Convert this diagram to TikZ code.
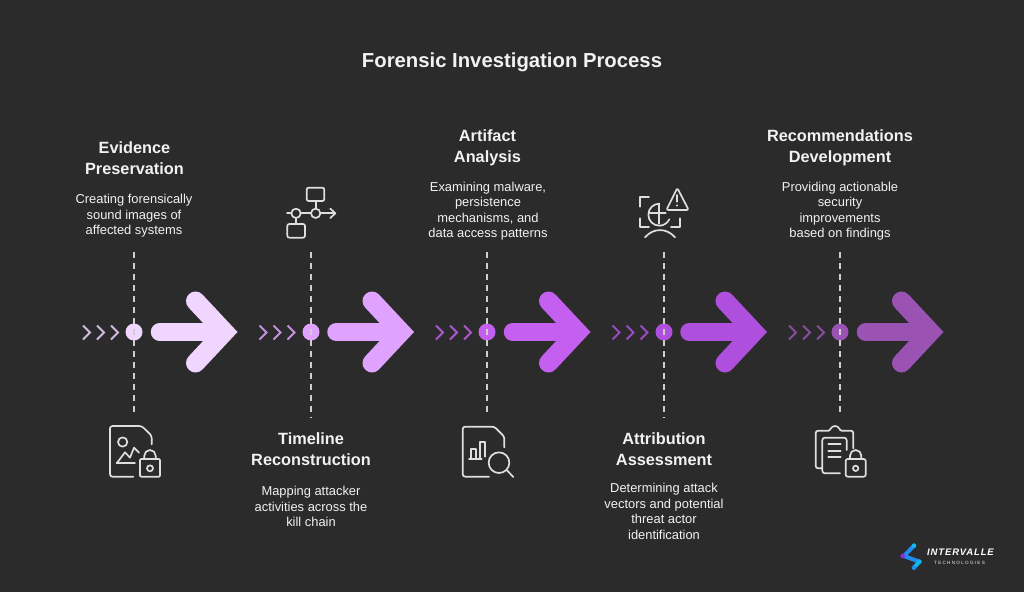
\documentclass[tikz,border=0pt]{standalone}
\usepackage{fontspec}
\setmainfont{Liberation Sans}
\newfontfamily\logofont[LetterSpace=9]{Liberation Sans}
\newfontfamily\logosub[LetterSpace=28]{Liberation Sans}
\definecolor{bg}{HTML}{2B2B2B}
\definecolor{cA}{HTML}{F0D5FF}
\definecolor{cB}{HTML}{DFA3FF}
\definecolor{cC}{HTML}{C55FEF}
\definecolor{cD}{HTML}{AE4FDD}
\definecolor{cE}{HTML}{9A52B3}
\definecolor{ink}{HTML}{F2F2F2}
\definecolor{iconc}{HTML}{DEDEDE}
\definecolor{dashc}{HTML}{CFCFCF}
\definecolor{logoblue}{HTML}{1E8CF0}
\definecolor{logocyan}{HTML}{12B5EC}
\definecolor{logoviolet}{HTML}{8A2BE2}
\tikzset{
  headtxt/.style={text=ink,align=center,font=\fontsize{16.3}{21}\selectfont\bfseries,inner sep=0pt},
  bodytxt/.style={text=ink,align=center,font=\fontsize{12.9}{15.5}\selectfont,inner sep=0pt},
  dotnode/.style={circle,minimum size=17pt,inner sep=0pt},
  dashline/.style={dashc,line width=1.6pt,dash pattern=on 6pt off 5pt,dash phase=3pt},
  iconline/.style={iconc,line width=1.7pt,line cap=round,line join=round},
  zoomed/.style={x=0.3333pt,y=-0.3333pt},
}
\newcommand{\stage}[2]{%
  \begin{scope}[shift={(#1,0)}]
    \draw[#2!85!bg,line width=1.9pt,line join=miter] (-51.5,325.5)--(-44.5,332.5)--(-51.5,339.5);
    \draw[#2!85!bg,line width=1.9pt,line join=miter] (-37.5,325.5)--(-30.5,332.5)--(-37.5,339.5);
    \draw[#2!85!bg,line width=1.9pt,line join=miter] (-23.5,325.5)--(-16.5,332.5)--(-23.5,339.5);
    \draw[#2,line width=17.5pt,line cap=round] (25,332)--(83,332);
    \draw[#2,line width=19pt,line cap=round,line join=miter] (61,301)--(90,332)--(61,363);
  \end{scope}}
\begin{document}
\begin{tikzpicture}[x=1pt,y=-1pt]
\useasboundingbox (0,0) rectangle (1024,592);
\fill[bg] (0,0) rectangle (1024,592);

\node[text=ink,inner sep=0pt,font=\fontsize{20.3}{24}\selectfont\bfseries] (title) at (512,62) {Forensic Investigation Process};

% arrows and chevrons
\stage{134.5}{cA}
\stage{311}{cB}
\stage{487.5}{cC}
\stage{664}{cD}
\stage{840.5}{cE}

% dots
\node[dotnode,fill=cA] (dotA) at (134,332) {};
\node[dotnode,fill=cB] (dotB) at (311,332) {};
\node[dotnode,fill=cC] (dotC) at (487,332) {};
\node[dotnode,fill=cD] (dotD) at (664,332) {};
\node[dotnode,fill=cE] (dotE) at (840,332) {};

% dashed connector ends
\coordinate (topA) at (134,248); \coordinate (botA) at (134,416);
\coordinate (topB) at (311,248); \coordinate (botB) at (311,418);
\coordinate (topC) at (487,248); \coordinate (botC) at (487,416);
\coordinate (topD) at (664,248); \coordinate (botD) at (664,418);
\coordinate (topE) at (840,248); \coordinate (botE) at (840,416);
\foreach \k in {A,B,C,D,E}{
  \draw[dashline] (dot\k.center) -- (top\k);
  \draw[dashline] (dot\k.center) -- (bot\k);
}

% texts
\node[headtxt] (hA) at (134.5,158.5) {Evidence\\Preservation};
\node[bodytxt] (tA) at (134,216) {Creating forensically\\sound images of\\affected systems};
\node[headtxt] (hB) at (311,449.5) {Timeline\\Reconstruction};
\node[bodytxt] (tB) at (311,506.5) {Mapping attacker\\activities across the\\kill chain};
\node[headtxt] (hC) at (487.5,148) {Artifact\\Analysis};
\node[bodytxt] (tC) at (488,211) {Examining malware,\\persistence\\mechanisms, and\\data access patterns};
\node[headtxt] (hD) at (664,449.5) {Attribution\\Assessment};
\node[bodytxt] (tD) at (664,511.5) {Determining attack\\vectors and potential\\threat actor\\identification};
\node[headtxt] (hE) at (840,148) {Recommendations\\Development};
\node[bodytxt] (tE) at (840,211) {Providing actionable\\security\\improvements\\based on findings};

% icon A: image file with lock
\begin{scope}[shift={(90,410)},zoomed,iconline]
  \draw[rounded corners=2.5pt] (130,200)--(60,200)--(60,48)--(155,48)--(185,77)--(185,103);
  \draw (98,96) circle[radius=14];
  \draw (80,160)--(105,127)--(120,143)--(132,113)--(147,128);
  \draw (80,160)--(135,160);
  \draw[rounded corners=1pt] (150,147) rectangle (210,200);
  \draw (163,147)--(163,137) arc[start angle=180,end angle=360,radius=17]--(197,147);
  \draw (180,175) circle[radius=9];
\end{scope}

% icon B: flow
\begin{scope}[shift={(270,175)},zoomed,iconline]
  \draw[rounded corners=2pt] (110,38) rectangle (163,78);
  \draw (137,78)--(137,101);
  \draw (137,115) circle[radius=14];
  \draw (78,115) circle[radius=14];
  \draw (51,115)--(64,115);
  \draw (92,115)--(123,115);
  \draw (151,115)--(195,115);
  \draw (181,101)--(196,115)--(181,129);
  \draw (78,129)--(78,147);
  \draw[rounded corners=2pt] (52,147) rectangle (105,188);
\end{scope}

% icon C: chart file with magnifier
\begin{scope}[shift={(445,415)},zoomed,iconline]
  \draw[rounded corners=2.5pt] (132,185)--(53,185)--(53,35)--(148,35)--(178,65)--(178,97);
  \draw (72,133)--(110,133);
  \draw (78,133)--(78,103)--(93,103)--(93,133);
  \draw (105,133)--(105,82)--(120,82)--(120,125);
  \draw (162,143) circle[radius=31];
  \draw (185,165)--(205,186);
\end{scope}

% icon D: attribution
\begin{scope}[shift={(625,180)},zoomed,iconline]
  \draw (45,80)--(45,52)--(72,52);
  \draw (45,115)--(45,140)--(72,140);
  \draw (165,115)--(165,140)--(138,140);
  \draw (103,71) arc[start angle=270,end angle=25,radius=33];
  \draw (103,71)--(103,131);
  \draw (71,100)--(122,100);
  \draw (60,172) .. controls (85,143) and (125,143) .. (150,172);
  \draw[rounded corners=2pt] (157,24)--(191,90)--(124,90)--cycle;
  \draw (157,45)--(157,65);
  \draw (157,76)--(157,77);
\end{scope}

% icon E: clipboard with lock
\begin{scope}[shift={(800,415)},zoomed,iconline]
  \draw[rounded corners=2.5pt] (85,47)--(47,47)--(47,160)--(67,160);
  \draw[rounded corners=2.5pt] (125,47)--(160,47)--(160,100);
  \draw (85,47) .. controls (92,47) and (92,33) .. (105,33) .. controls (118,33) and (118,47) .. (125,47);
  \draw[rounded corners=2.5pt] (140,105)--(140,68)--(67,68)--(67,175)--(120,175);
  \draw (85,88)--(122,88);
  \draw (85,107)--(122,107);
  \draw (85,126)--(122,126);
  \draw[rounded corners=2pt] (137,132) rectangle (197,185);
  \draw (150,132)--(150,122) arc[start angle=180,end angle=360,radius=17]--(184,132);
  \draw (167,160) circle[radius=8];
\end{scope}

% logo
\begin{scope}[shift={(890,535)},zoomed]
  \draw[line width=4pt,line cap=round,color=logoblue] (72,32)--(42,63);
  \draw[line width=4pt,line cap=round,color=logoblue] (42,63)--(88,80);
  \draw[line width=4pt,line cap=round,color=logocyan] (88,80)--(72,98);
  \fill[logoviolet] (38,63) circle[radius=7];
  \fill[logocyan] (72,32) circle[radius=7];
  \fill[logocyan] (88,80) circle[radius=7];
  \fill[logoblue] (72,98) circle[radius=7];
\end{scope}
\node[text=white,inner sep=0pt,font=\fontsize{9.5}{12}\logofont\bfseries\itshape] (logoA) at (960.5,552.5) {INTERVALLE};
\node[text=ink,inner sep=0pt,font=\fontsize{4.6}{6}\logosub] (logoB) at (959.5,562.8) {TECHNOLOGIES};
\end{tikzpicture}
\end{document}
